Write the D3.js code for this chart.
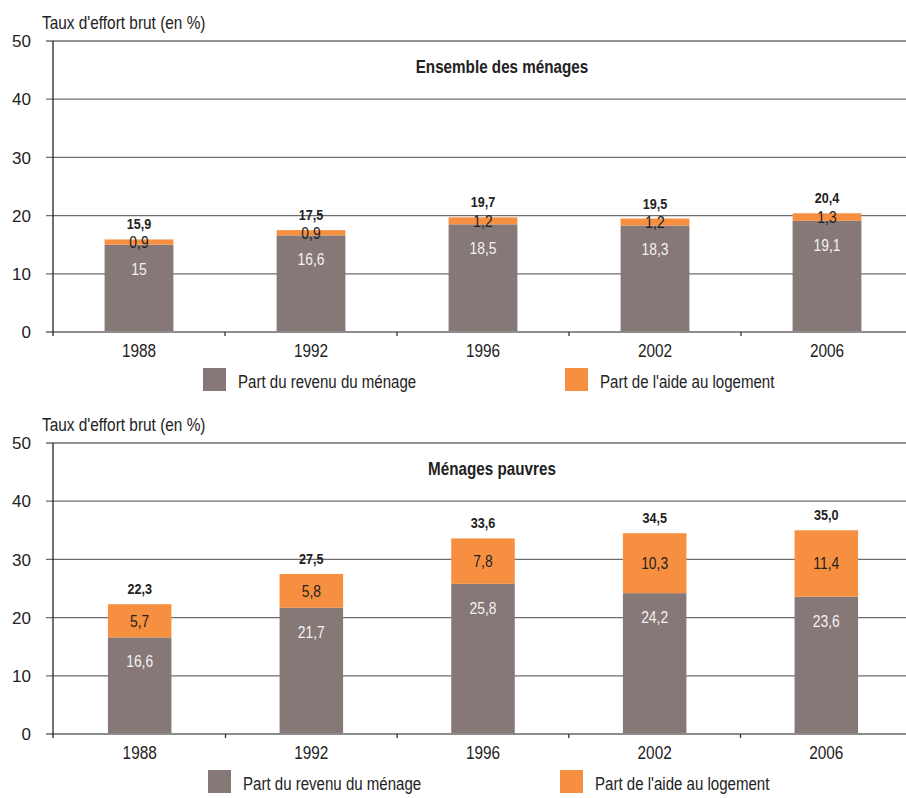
<!DOCTYPE html>
<html>
<head>
<meta charset="utf-8">
<script src="https://cdn.jsdelivr.net/npm/d3@7"></script>
<style>
  body { margin: 0; background: #fff; }
  text { font-family: "Liberation Sans", Arial, sans-serif; fill: #222; }
</style>
</head>
<body>
<div id="chart"></div>
<script>
const years = ['1988', '1992', '1996', '2002', '2006'];
const seriesNames = ['Part du revenu du ménage', "Part de l'aide au logement"];
const yTicks = [0, 10, 20, 30, 40, 50];
const axisTitle = "Taux d'effort brut (en %)";

const allRevenu = [15, 16.6, 18.5, 18.3, 19.1];
const allAide = [0.9, 0.9, 1.2, 1.2, 1.3];
const allTotal = [15.9, 17.5, 19.7, 19.5, 20.4];

const poorRevenu = [16.6, 21.7, 25.8, 24.2, 23.6];
const poorAide = [5.7, 5.8, 7.8, 10.3, 11.4];
const poorTotal = [22.3, 27.5, 33.6, 34.5, 35.0];

const colors = ['#857876', '#f68f3f'];

const w = 906;
const h = 798;

const svg = d3.select('#chart').append('svg').attr('width', w).attr('height', h);

const fr = v => String(v).replace('.', ',');
const fr1 = v => v.toFixed(1).replace('.', ',');

// the source uses a condensed face, squeeze the glyphs horizontally
const narrow = (sel, k) => sel.each(function () {
    const len = this.getComputedTextLength();
    d3.select(this).attr('textLength', len * k).attr('lengthAdjust', 'spacingAndGlyphs');
});

const panels = [
    { title: 'Ensemble des ménages', revenu: allRevenu, aide: allAide, total: allTotal,
      top: 41, bottom: 332, pi: 0.6, po: 0.3, titleX: 502, legendX: [203, 565] },
    { title: 'Ménages pauvres', revenu: poorRevenu, aide: poorAide, total: poorTotal,
      top: 443, bottom: 734, pi: 0.63, po: 0.32, titleX: 492, legendX: [208, 560] }
];

const left = 53;

panels.forEach(p => {
    const g = svg.append('g');

    const x = d3.scaleBand().domain(years).range([left, 913])
        .paddingInner(p.pi).paddingOuter(p.po);
    const y = d3.scaleLinear().domain([0, 50]).range([p.bottom, p.top]);

    // axis title
    g.append('text').attr('x', 42).attr('y', p.top - 12)
        .style('font-size', '19px').text(axisTitle)
        .call(narrow, 0.81);

    // grid lines
    g.selectAll('.grid').data(yTicks.filter(d => d > 0)).enter()
        .append('line')
        .attr('x1', left - 7).attr('x2', w)
        .attr('y1', d => y(d)).attr('y2', d => y(d))
        .attr('stroke', '#6e6e6e').attr('stroke-width', 1.3);

    // tick labels
    g.selectAll('.ylab').data(yTicks).enter()
        .append('text')
        .attr('x', 31).attr('y', d => y(d)).attr('dy', '0.36em')
        .attr('text-anchor', 'end').style('font-size', '17px')
        .text(d => d);

    // chart title
    g.append('text').attr('x', p.titleX).attr('y', p.top + 32)
        .attr('text-anchor', 'middle').style('font-size', '17.5px').style('font-weight', 'bold')
        .text(p.title)
        .call(narrow, 0.87);

    const stackData = years.map((yr, i) => ({ year: yr, revenu: p.revenu[i], aide: p.aide[i], total: p.total[i] }));
    const stack = d3.stack().keys(['revenu', 'aide'])(stackData);

    g.selectAll('.series').data(stack).enter()
        .append('g').attr('fill', (d, i) => colors[i])
        .selectAll('rect').data(d => d).enter()
        .append('rect')
        .attr('x', d => x(d.data.year))
        .attr('width', x.bandwidth())
        .attr('y', d => y(d[1]))
        .attr('height', d => y(d[0]) - y(d[1]));

    // baseline
    g.append('line').attr('x1', left - 7).attr('x2', w)
        .attr('y1', y(0)).attr('y2', y(0))
        .attr('stroke', '#8c8c8c').attr('stroke-width', 2);

    // y axis line
    g.append('line').attr('x1', left).attr('x2', left)
        .attr('y1', y(50)).attr('y2', y(0) + 4)
        .attr('stroke', '#222').attr('stroke-width', 1.3);

    // x ticks between categories
    const step = x.step();
    const bounds = years.slice(1).map(yr => x(yr) - step * p.pi / 2);
    g.selectAll('.xtick').data(bounds).enter()
        .append('line')
        .attr('x1', d => d).attr('x2', d => d)
        .attr('y1', y(0)).attr('y2', y(0) + 4)
        .attr('stroke', '#333').attr('stroke-width', 1.3);

    // year labels
    g.selectAll('.xlab').data(years).enter()
        .append('text')
        .attr('x', d => x(d) + x.bandwidth() / 2).attr('y', y(0) + 25)
        .attr('text-anchor', 'middle').style('font-size', '18.5px')
        .text(d => d)
        .call(narrow, 0.83);

    // labels in the brown segment
    g.selectAll('.vrev').data(stackData).enter()
        .append('text')
        .attr('x', d => x(d.year) + x.bandwidth() / 2)
        .attr('y', d => y(d.revenu) + 30)
        .attr('text-anchor', 'middle').style('font-size', '16.5px')
        .style('fill', '#f4f2f1')
        .text(d => fr(d.revenu))
        .call(narrow, 0.84);

    // labels in the orange segment
    g.selectAll('.vaide').data(stackData).enter()
        .append('text')
        .attr('x', d => x(d.year) + x.bandwidth() / 2)
        .attr('y', d => y(d.revenu + d.aide / 2)).attr('dy', '0.36em')
        .attr('text-anchor', 'middle').style('font-size', '16.5px')
        .text(d => fr(d.aide))
        .call(narrow, 0.84);

    // totals
    g.selectAll('.vtot').data(stackData).enter()
        .append('text')
        .attr('x', d => x(d.year) + x.bandwidth() / 2)
        .attr('y', d => y(d.total) - 10)
        .attr('text-anchor', 'middle').style('font-size', '15px').style('font-weight', 'bold')
        .text(d => fr1(d.total))
        .call(narrow, 0.84);

    // legend
    const leg = g.selectAll('.leg').data(seriesNames).enter()
        .append('g')
        .attr('transform', (d, i) => `translate(${p.legendX[i]},${y(0) + 36})`);
    leg.append('rect').attr('width', 23).attr('height', 23).attr('fill', (d, i) => colors[i]);
    leg.append('text').attr('x', 35).attr('y', 20).style('font-size', '17.5px').text(d => d)
        .call(narrow, 0.86);
});
</script>
</body>
</html>
